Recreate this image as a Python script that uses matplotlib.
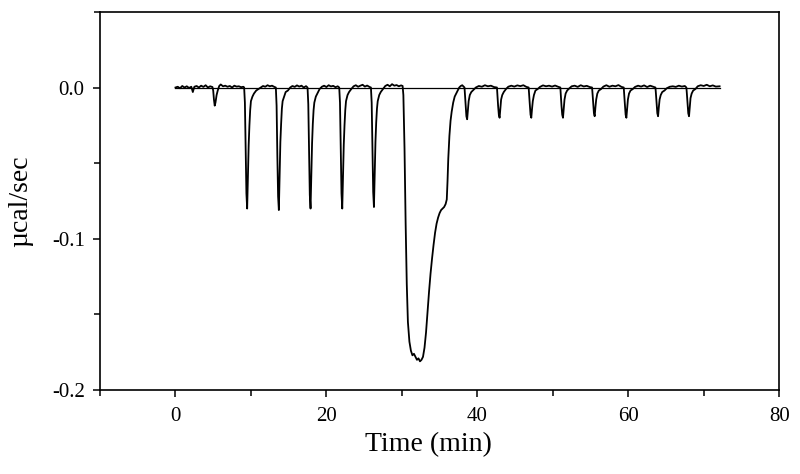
import matplotlib.pyplot as plt
from matplotlib.ticker import MultipleLocator

# ITC raw heat trace (time in min, signal in ucal/sec)
time_min = [
    0.0, 0.3, 0.6, 0.9, 1.2, 1.5, 1.8, 2.1, 2.3, 2.5, 2.8, 3.1, 3.4, 3.7, 4.0, 4.3, 4.6, 4.9,
    5.0, 5.1, 5.2, 5.3, 5.45, 5.6, 5.8, 6.0, 6.3, 6.6, 6.9, 7.2, 7.5, 7.8, 8.1, 8.4, 8.7, 9.0, 9.1,
    9.2, 9.3, 9.4, 9.5, 9.6, 9.7, 9.8, 9.9, 10.0, 10.2, 10.4, 10.7, 11.0, 11.3, 11.6, 11.9, 12.2, 12.5, 12.8, 13.1, 13.3,
    13.4, 13.5, 13.6, 13.7, 13.8, 13.9, 14.0, 14.1, 14.2, 14.4, 14.6, 14.9, 15.2, 15.5, 15.8, 16.1, 16.4, 16.7, 17.0, 17.3, 17.5,
    17.6, 17.7, 17.8, 17.9, 18.0, 18.1, 18.2, 18.3, 18.4, 18.6, 18.8, 19.1, 19.4, 19.7, 20.0, 20.3, 20.6, 20.9, 21.2, 21.5, 21.7,
    21.8, 21.9, 22.0, 22.1, 22.2, 22.3, 22.4, 22.5, 22.6, 22.8, 23.0, 23.3, 23.6, 23.9, 24.2, 24.5, 24.8, 25.1, 25.4, 25.7, 25.9,
    26.0, 26.1, 26.2, 26.3, 26.4, 26.5, 26.6, 26.7, 26.8, 27.0, 27.2, 27.5, 27.8, 28.1, 28.4, 28.7, 29.0, 29.3, 29.6, 29.9, 30.1,
    30.2, 30.35, 30.5, 30.65, 30.8, 31.0, 31.2, 31.4, 31.6, 31.8, 32.0, 32.2, 32.4, 32.6, 32.8, 33.0, 33.2, 33.4, 33.6, 33.8,
    34.0, 34.2, 34.4, 34.6, 34.8, 35.0, 35.2, 35.4, 35.6, 35.8, 35.95, 36.05, 36.15, 36.3, 36.45, 36.6, 36.8, 37.0, 37.2, 37.4,
    37.6, 37.8, 38.0, 38.2, 38.3,
    38.35, 38.45, 38.55, 38.65, 38.75, 38.85, 39.0, 39.2, 39.5, 39.8, 40.2, 40.6, 41.0, 41.4, 41.8, 42.2, 42.6,
    42.65, 42.75, 42.85, 42.95, 43.05, 43.15, 43.3, 43.5, 43.8, 44.1, 44.5, 44.9, 45.3, 45.7, 46.1, 46.5, 46.8,
    46.85, 46.95, 47.05, 47.15, 47.25, 47.35, 47.5, 47.7, 48.0, 48.3, 48.7, 49.1, 49.5, 49.9, 50.3, 50.7, 51.0,
    51.05, 51.15, 51.25, 51.35, 51.45, 51.55, 51.7, 51.9, 52.2, 52.5, 52.9, 53.3, 53.7, 54.1, 54.5, 54.9, 55.2,
    55.25, 55.35, 55.45, 55.55, 55.65, 55.75, 55.9, 56.1, 56.4, 56.7, 57.1, 57.5, 57.9, 58.3, 58.7, 59.1, 59.4,
    59.45, 59.55, 59.65, 59.75, 59.85, 59.95, 60.1, 60.3, 60.6, 60.9, 61.3, 61.7, 62.1, 62.5, 62.9, 63.3, 63.6,
    63.65, 63.75, 63.85, 63.95, 64.05, 64.15, 64.3, 64.5, 64.8, 65.1, 65.5, 65.9, 66.3, 66.7, 67.1, 67.5, 67.7,
    67.75, 67.85, 67.95, 68.05, 68.15, 68.25, 68.4, 68.6, 68.9, 69.2, 69.6, 70.0, 70.4, 70.8, 71.2, 71.6, 72.1,
]
heat_rate = [
    0.0, 0.0005, -0.0005, 0.001, 0.0, 0.0008, -0.0003, 0.0005, -0.003, 0.0005, 0.001, 0.0, 0.0012, 0.0004, 0.0015, 0.0, 0.0008, 0.0003,
    -0.002, -0.008, -0.012, -0.010, -0.005, -0.002, 0.001, 0.002, 0.0008, 0.0012, 0.0005, 0.001, 0.0, 0.0012, 0.0006, 0.0008, 0.0002, 0.0005, 0.0,
    -0.010, -0.040, -0.070, -0.080, -0.060, -0.038, -0.025, -0.015, -0.009, -0.006, -0.004, -0.002, -0.001, 0.0, 0.001, 0.0005, 0.0015, 0.0008, 0.0012, 0.0004, 0.0,
    -0.012, -0.045, -0.072, -0.081, -0.058, -0.036, -0.024, -0.014, -0.009, -0.006, -0.003, -0.002, 0.0, 0.001, 0.0004, 0.0014, 0.0006, 0.0012, 0.0, 0.0009, 0.0,
    -0.011, -0.042, -0.071, -0.080, -0.059, -0.037, -0.024, -0.015, -0.010, -0.006, -0.004, -0.001, 0.0005, 0.0012, 0.0003, 0.0015, 0.0007, 0.0011, 0.0002, 0.0008, 0.0,
    -0.010, -0.041, -0.070, -0.080, -0.060, -0.038, -0.025, -0.015, -0.009, -0.005, -0.003, -0.001, 0.0008, 0.0015, 0.0005, 0.0012, 0.0018, 0.0006, 0.0013, 0.0004, 0.0,
    -0.010, -0.040, -0.069, -0.079, -0.058, -0.036, -0.023, -0.014, -0.009, -0.005, -0.003, -0.001, 0.001, 0.0018, 0.0008, 0.0022, 0.0012, 0.0016, 0.0008, 0.0014, 0.001,
    -0.005, -0.040, -0.090, -0.130, -0.155, -0.168, -0.174, -0.177, -0.176, -0.178, -0.180, -0.179, -0.181, -0.180, -0.178, -0.172, -0.162, -0.148, -0.135, -0.123,
    -0.113, -0.104, -0.096, -0.090, -0.086, -0.083, -0.081, -0.080, -0.079, -0.077, -0.074, -0.062, -0.047, -0.032, -0.022, -0.016, -0.010, -0.006, -0.004, -0.002,
    0.0, 0.001, 0.0015, 0.0005, 0.0,
    -0.004, -0.012, -0.019, -0.021, -0.015, -0.009, -0.005, -0.003, -0.0015, 0.0, 0.001, 0.0005, 0.0015, 0.0008, 0.0012, 0.0003, 0.0,
    -0.004, -0.012, -0.018, -0.020, -0.014, -0.008, -0.005, -0.003, -0.001, 0.0005, 0.0012, 0.0006, 0.0014, 0.0009, 0.0015, 0.0004, 0.0,
    -0.004, -0.011, -0.018, -0.020, -0.014, -0.009, -0.005, -0.002, -0.001, 0.0004, 0.0014, 0.0008, 0.0012, 0.0006, 0.0013, 0.0005, 0.0,
    -0.004, -0.012, -0.018, -0.020, -0.014, -0.008, -0.004, -0.002, -0.0005, 0.0008, 0.0012, 0.0004, 0.0015, 0.0007, 0.0011, 0.0003, 0.0,
    -0.003, -0.010, -0.017, -0.019, -0.013, -0.008, -0.004, -0.002, -0.001, 0.0006, 0.0015, 0.0005, 0.0012, 0.0008, 0.0016, 0.0004, 0.0,
    -0.004, -0.011, -0.018, -0.020, -0.014, -0.008, -0.004, -0.002, -0.001, 0.0004, 0.0012, 0.0006, 0.0014, 0.0003, 0.0012, 0.0005, 0.0,
    -0.003, -0.010, -0.017, -0.019, -0.013, -0.008, -0.005, -0.003, -0.002, -0.0005, 0.0005, 0.0008, 0.0004, 0.0012, 0.0006, 0.0010, 0.0,
    -0.003, -0.010, -0.017, -0.019, -0.013, -0.007, -0.004, -0.002, -0.001, 0.0008, 0.0015, 0.0010, 0.0018, 0.0008, 0.0014, 0.0006, 0.0008,
]

baseline_t = [0.0, 72.1]
baseline_y = [0.0, 0.0]

plt.rcParams['font.family'] = ['Liberation Serif', 'DejaVu Serif']
plt.rcParams['axes.unicode_minus'] = False

fig = plt.figure(figsize=(8, 4.74), dpi=100)
ax = fig.add_axes([0.125, 0.177, 0.849, 0.798])

ax.plot(baseline_t, baseline_y, color='black', lw=0.9)
ax.plot(time_min, heat_rate, color='black', lw=1.3)

ax.set_xlim(-10, 80)
ax.set_ylim(-0.2, 0.05)
ax.xaxis.set_major_locator(MultipleLocator(20))
ax.xaxis.set_minor_locator(MultipleLocator(10))
ax.set_yticks([-0.2, -0.1, 0.0])
ax.set_yticklabels(['-0.2', '-0.1', '0.0'])
ax.yaxis.set_minor_locator(MultipleLocator(0.05))
ax.tick_params(which='both', direction='out', top=False, right=False, labelsize=15, colors='black')
ax.tick_params(axis='x', pad=7)
ax.tick_params(axis='y', pad=6)
ax.tick_params(which='major', length=5, width=1.1)
ax.tick_params(which='minor', length=4, width=1.1)
for s in ax.spines.values():
    s.set_linewidth(1.2)

ax.set_xlabel('Time (min)', fontsize=20)
ax.xaxis.set_label_coords(0.483, -0.11)
ax.set_ylabel('µcal/sec', fontsize=20)
ax.yaxis.set_label_coords(-0.098, 0.5)

fig.savefig('out.png', dpi=100)
